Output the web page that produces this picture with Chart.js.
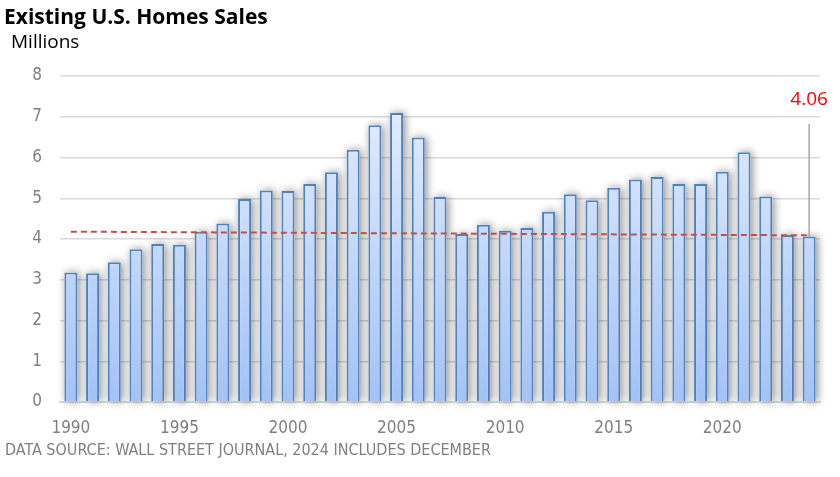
<!DOCTYPE html>
<html lang="en">
<head>
    <meta charset="UTF-8">
    <title>Existing U.S. Homes Sales</title>
    <script src="https://cdn.jsdelivr.net/npm/chart.js"></script>
    <style>
        html, body { margin: 0; padding: 0; background: #fff; }
        .wrap { position: relative; width: 840px; height: 477px; }
    </style>
</head>
<body>
    <div class="wrap">
        <canvas id="salesChart" width="840" height="477"></canvas>
    </div>

    <script>
        // Existing home sales, millions, 1990-2024
        const years = [];
        for (let y = 1990; y <= 2024; y++) years.push(String(y));
        const sales = [3.18, 3.16, 3.43, 3.75, 3.88, 3.86, 4.18, 4.38, 4.98, 5.19,
                       5.18, 5.35, 5.64, 6.19, 6.79, 7.09, 6.49, 5.03, 4.12, 4.35,
                       4.20, 4.27, 4.67, 5.10, 4.95, 5.26, 5.46, 5.52, 5.35, 5.35,
                       5.65, 6.13, 5.04, 4.10, 4.06];
        const trendStart = 4.18;
        const trendEnd = 4.09;
        const trend = years.map((y, i) => i === 0 ? trendStart : (i === years.length - 1 ? trendEnd : null));
        const yTicks = [0, 1, 2, 3, 4, 5, 6, 7, 8];
        const calloutLabel = '4.06';

        const tickFont = { family: "'Liberation Sans Narrow', 'DejaVu Sans Condensed', sans-serif", size: 17 };

        // title, subtitle, source note and the callout for the last bar
        const decorations = {
            id: 'decorations',
            afterDraw(chart) {
                const c = chart.ctx;
                c.save();
                c.textBaseline = 'middle';
                c.textAlign = 'left';
                c.fillStyle = '#000';
                c.font = "bold 21px 'Open Sans', sans-serif";
                c.fillText('Existing U.S. Homes Sales', 4, 18);
                c.font = "19px 'Open Sans', sans-serif";
                c.fillText('Millions', 11, 43);
                c.fillStyle = '#7f7f7f';
                c.font = "16px 'DejaVu Sans Condensed', sans-serif";
                c.fillText('DATA SOURCE: WALL STREET JOURNAL, 2024 INCLUDES DECEMBER', 5, 451);

                const last = sales.length - 1;
                const x = chart.scales.x.getPixelForValue(last);
                const yTop = chart.scales.y.getPixelForValue(sales[last]);
                c.strokeStyle = '#a6a6a6';
                c.lineWidth = 1.5;
                c.beginPath();
                c.moveTo(x, 124);
                c.lineTo(x, yTop);
                c.stroke();
                c.fillStyle = '#ff0000';
                c.textAlign = 'center';
                c.font = "19px 'Open Sans', sans-serif";
                c.fillText(calloutLabel, x, 100);
                c.restore();
            }
        };

        // soft shadow behind the bars (bars clip their own drawing, so paint it first)
        const barShadow = {
            id: 'barShadow',
            beforeDatasetDraw(chart, args) {
                if (args.index !== 0) return;
                const c = chart.ctx;
                c.save();
                c.shadowColor = 'rgba(0, 0, 0, 0.45)';
                c.shadowBlur = 9;
                c.shadowOffsetX = 2;
                c.shadowOffsetY = 0;
                c.fillStyle = '#ffffff';
                chart.getDatasetMeta(0).data.forEach(bar => {
                    const p = bar.getProps(['x', 'y', 'base', 'width'], true);
                    c.fillRect(p.x - p.width / 2, p.y, p.width, p.base - p.y);
                });
                c.restore();
            }
        };

        const ctx = document.getElementById('salesChart').getContext('2d');
        new Chart(ctx, {
            data: {
                labels: years,
                datasets: [{
                    type: 'bar',
                    data: sales,
                    backgroundColor: (context) => {
                        const area = context.chart.chartArea;
                        if (!area) return '#c5d9f7';
                        const g = context.chart.ctx.createLinearGradient(0, area.top, 0, area.bottom);
                        g.addColorStop(0, '#e8f0fc');
                        g.addColorStop(1, '#a3c3f6');
                        return g;
                    },
                    borderColor: '#4f81bd',
                    borderWidth: 2,
                    borderSkipped: 'bottom',
                    categoryPercentage: 1,
                    barPercentage: 0.6,
                    order: 2
                }, {
                    type: 'line',
                    data: trend,
                    spanGaps: true,
                    borderColor: '#c0504d',
                    borderWidth: 2,
                    borderDash: [6, 4],
                    pointRadius: 0,
                    fill: false,
                    order: 1
                }]
            },
            options: {
                responsive: false,
                animation: false,
                layout: { padding: { top: 76, right: 20, bottom: 0, left: 0 } },
                plugins: {
                    legend: { display: false },
                    tooltip: { enabled: false }
                },
                scales: {
                    x: {
                        grid: { display: false },
                        border: { color: '#d9d9d9', width: 2 },
                        ticks: {
                            autoSkip: false,
                            maxRotation: 0,
                            color: '#7f7f7f',
                            font: tickFont,
                            padding: 8,
                            callback: (v, i) => (Number(years[i]) % 5 === 0 ? years[i] : '')
                        },
                        afterFit: (s) => { s.height = 75; }
                    },
                    y: {
                        min: 0,
                        max: 8,
                        afterBuildTicks: (s) => { s.ticks = yTicks.map(v => ({ value: v })); },
                        grid: { color: '#d9d9d9', lineWidth: 1.5, drawTicks: false },
                        border: { display: false },
                        ticks: { color: '#7f7f7f', font: tickFont, padding: 18 },
                        afterFit: (s) => { s.width = 60; }
                    }
                }
            },
            plugins: [barShadow, decorations]
        });
    </script>
</body>
</html>
